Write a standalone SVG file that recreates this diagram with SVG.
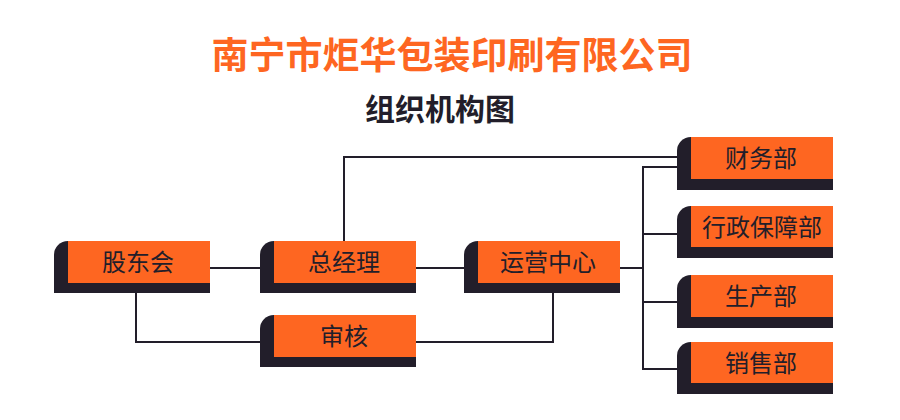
<svg xmlns="http://www.w3.org/2000/svg" width="900" height="420" viewBox="0 0 900 420">
<style>
.sh{fill:#221e2a}
.bx{fill:#fe6621}
.lb{font-family:"Noto Sans CJK SC","Noto Sans",sans-serif;font-size:24px;fill:#221e2a;text-anchor:middle}
.ln{fill:none;stroke:#221e2a;stroke-width:2}
</style>
<rect width="900" height="420" fill="#ffffff"/>
<text x="452" y="69" font-family="'Noto Sans CJK SC','Noto Sans',sans-serif" font-size="37" font-weight="bold" fill="#fe6621" text-anchor="middle">南宁市炬华包装印刷有限公司</text>
<text x="440" y="120" font-family="'Noto Sans CJK SC','Noto Sans',sans-serif" font-size="30" font-weight="bold" fill="#221e2a" text-anchor="middle">组织机构图</text>
<g id="connectors">
<path class="ln" d="M210,268 H260"/>
<path class="ln" d="M416,268 H464"/>
<path class="ln" d="M344,241 V157 H677"/>
<path class="ln" d="M136,293 V342 H260"/>
<path class="ln" d="M416,342 H553 V293"/>
<path class="ln" d="M620,268 H643"/>
<path class="ln" d="M677,167 H643 V369 H677"/>
<path class="ln" d="M643,234 H677"/>
<path class="ln" d="M643,302 H677"/>
</g>
<g id="n-gudonghui">
<path class="sh" d="M68,241 H210 V293 H54 V255 A14 14 0 0 1 68,241 Z"/>
<rect class="bx" x="68" y="241" width="142" height="42"/>
<text class="lb" x="138" y="271">股东会</text>
</g>
<g id="n-zongjingli">
<path class="sh" d="M274,241 H416 V293 H260 V255 A14 14 0 0 1 274,241 Z"/>
<rect class="bx" x="274" y="241" width="142" height="42"/>
<text class="lb" x="344" y="271">总经理</text>
</g>
<g id="n-shenhe">
<path class="sh" d="M274,315 H416 V367 H260 V329 A14 14 0 0 1 274,315 Z"/>
<rect class="bx" x="274" y="315" width="142" height="42"/>
<text class="lb" x="344" y="345">审核</text>
</g>
<g id="n-yunying">
<path class="sh" d="M478,241 H620 V293 H464 V255 A14 14 0 0 1 478,241 Z"/>
<rect class="bx" x="478" y="241" width="142" height="42"/>
<text class="lb" x="548" y="271">运营中心</text>
</g>
<g id="n-caiwu">
<path class="sh" d="M691,137 H833 V190 H677 V151 A14 14 0 0 1 691,137 Z"/>
<rect class="bx" x="691" y="137" width="142" height="42"/>
<text class="lb" x="761" y="167">财务部</text>
</g>
<g id="n-xingzheng">
<path class="sh" d="M691,206 H833 V258 H677 V220 A14 14 0 0 1 691,206 Z"/>
<rect class="bx" x="691" y="206" width="142" height="41"/>
<text class="lb" x="762" y="236">行政保障部</text>
</g>
<g id="n-shengchan">
<path class="sh" d="M691,275 H833 V328 H677 V289 A14 14 0 0 1 691,275 Z"/>
<rect class="bx" x="691" y="275" width="142" height="42"/>
<text class="lb" x="761" y="305">生产部</text>
</g>
<g id="n-xiaoshou">
<path class="sh" d="M691,342 H833 V394 H677 V356 A14 14 0 0 1 691,342 Z"/>
<rect class="bx" x="691" y="342" width="142" height="41"/>
<text class="lb" x="761" y="372">销售部</text>
</g>
</svg>
